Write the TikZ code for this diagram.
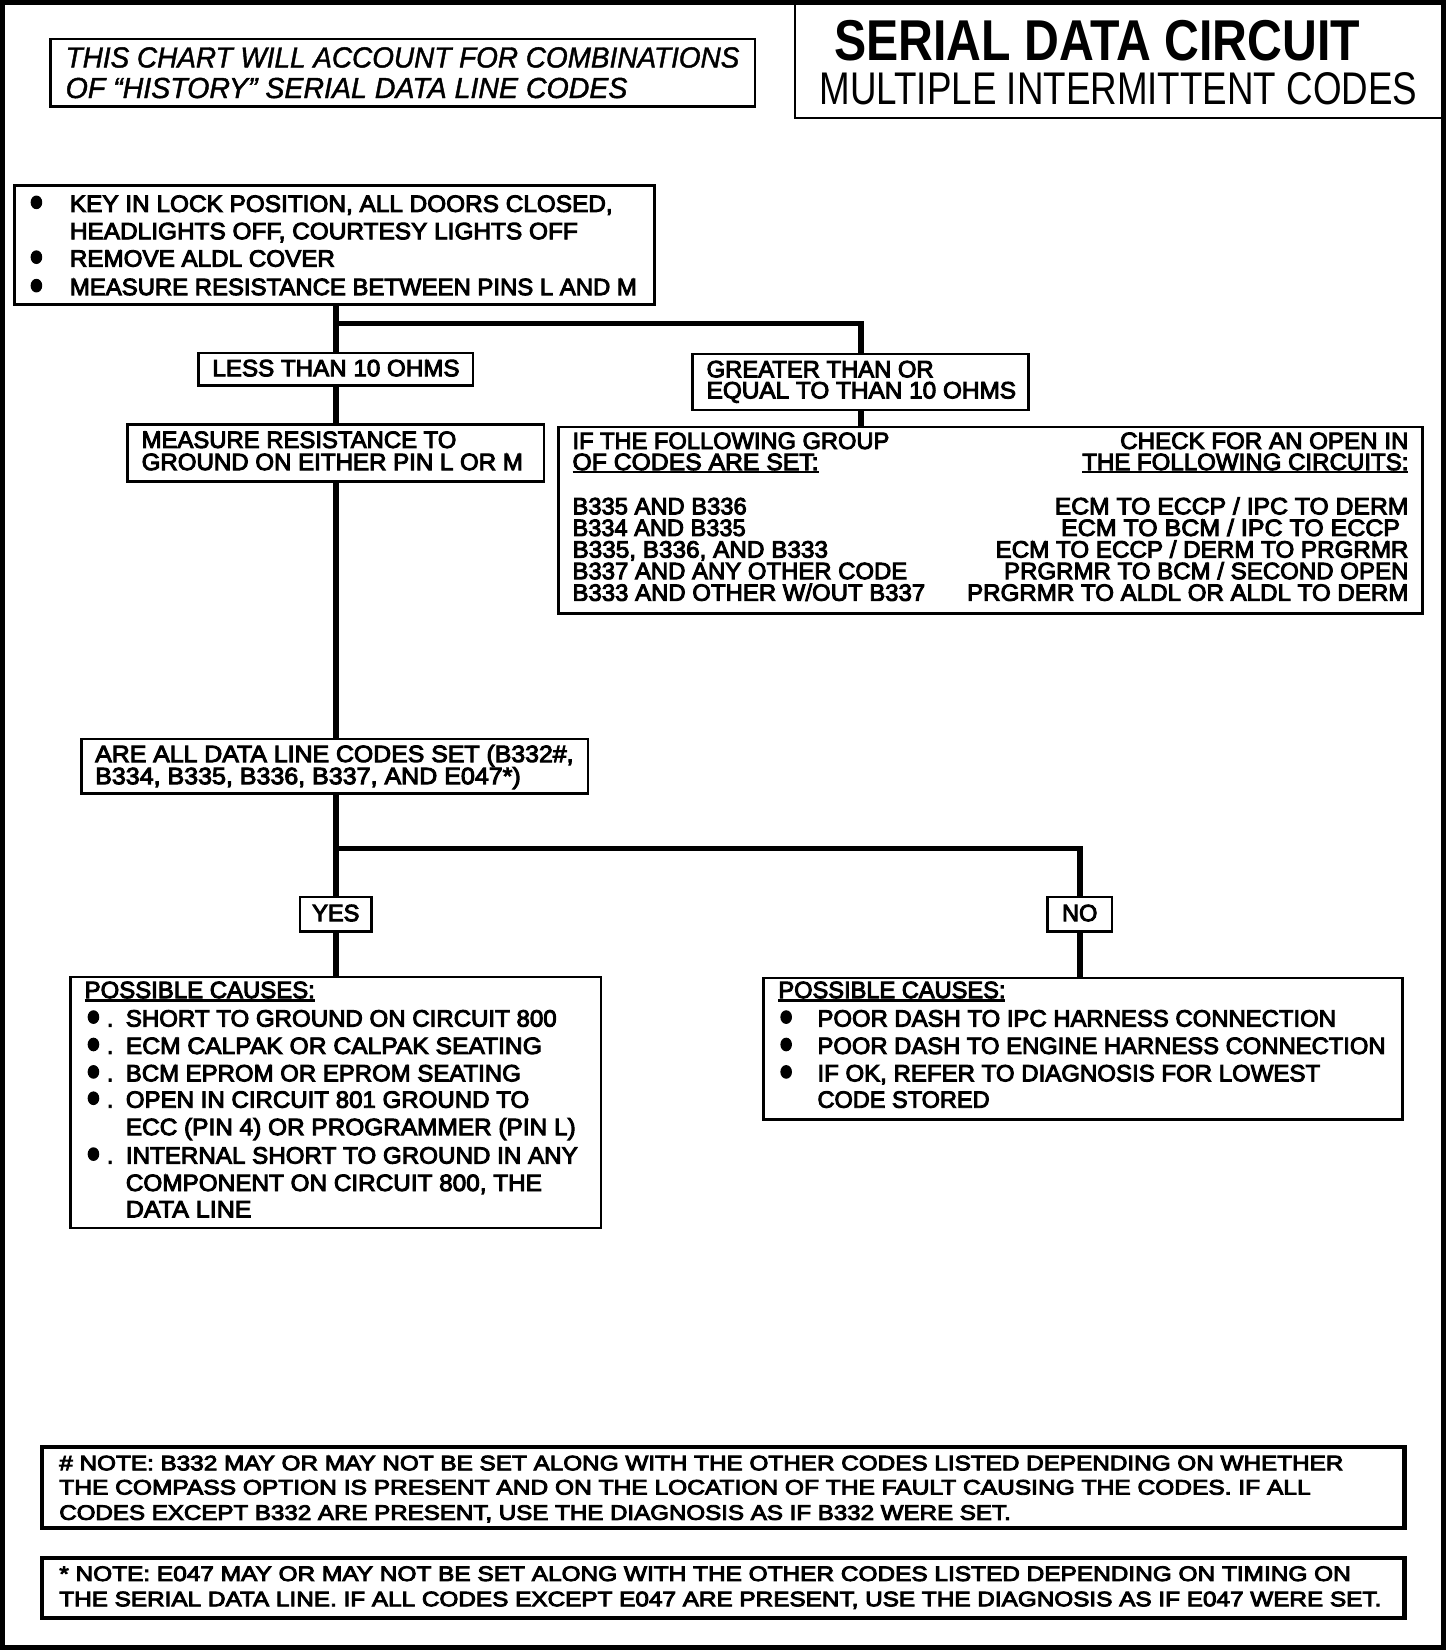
\documentclass[tikz,border=0pt]{standalone}
\usepackage{fontspec}
\usepackage{graphicx}
\setmainfont{Liberation Sans}
\newfontfamily\bodyf{Liberation Sans}[FakeBold=4]
\newfontfamily\itf{Liberation Sans}[FakeBold=1.5]
\usetikzlibrary{fit}
\newsavebox\hfbox
\newcommand\hfit[2]{\sbox\hfbox{#2}\pgfmathsetmacro\hfac{#1*1.056/\the\wd\hfbox}\scalebox{\hfac}[1]{\usebox\hfbox}}
\newsavebox\ulbox
\newcommand\ulx[1]{\sbox\ulbox{#1}\rlap{\rule[-3.4pt]{\wd\ulbox}{2.1pt}}\usebox\ulbox}
\newcommand\bodysize{\bodyf\fontsize{23.6}{26}\selectfont}
\newcommand\notesize{\bodyf\fontsize{21}{24}\selectfont}
\tikzset{
  box/.style={draw, line width=2.6pt, inner sep=0pt},
  notebox/.style={draw, line width=4.2pt, inner sep=0pt},
  conn/.style={line width=5.8pt},
  txt/.style={anchor=base west, inner sep=0pt, font=\bodysize},
  rtxt/.style={anchor=base east, inner sep=0pt, font=\bodysize},
  ctxt/.style={anchor=base, inner sep=0pt, font=\bodysize},
  ntxt/.style={anchor=base west, inner sep=0pt, font=\notesize},
  blt/.style={fill=black},
}
\begin{document}
\begin{tikzpicture}[x=1.056pt,y=-1.054pt]
\useasboundingbox (0,0) rectangle (1378.8,1567.4);
% outer frame
\draw[line width=4.4pt] (2.5,2.5) rectangle (1367,1563);
% title box
\node[box, fit={(753,3) (1367,112)}] (title) {};
\node[anchor=base west, inner sep=0pt] (t1) at (790,57) {\hfit{498}{\bfseries\fontsize{57.6}{60}\selectfont SERIAL DATA CIRCUIT}};
\node[anchor=base west, inner sep=0pt] (t2) at (776,99) {\hfit{566}{\fontsize{45.8}{50}\selectfont MULTIPLE INTERMITTENT CODES}};
% chart note
\node[box, fit={(48,37) (715,101)}] (chart) {};
\node[anchor=base west, inner sep=0pt] (c1) at (62,64) {\hfit{638}{\itf\itshape\fontsize{29}{30}\selectfont THIS CHART WILL ACCOUNT FOR COMBINATIONS}};
\node[anchor=base west, inner sep=0pt] (c2) at (62,93) {\hfit{532}{\itf\itshape\fontsize{29}{30}\selectfont OF “HISTORY” SERIAL DATA LINE CODES}};
% box A
\node[box, fit={(14,176) (620,289)}] (A) {};
\fill[blt] (34.5,192) ellipse [x radius=5.5, y radius=6.5];
\fill[blt] (34.5,244) ellipse [x radius=5.5, y radius=6.5];
\fill[blt] (34.5,271) ellipse [x radius=5.5, y radius=6.5];
\node[txt] (a1) at (66,201) {\hfit{514}{KEY IN LOCK POSITION, ALL DOORS CLOSED,}};
\node[txt] (a2) at (66,227) {\hfit{481}{HEADLIGHTS OFF, COURTESY LIGHTS OFF}};
\node[txt] (a3) at (66,253) {\hfit{251}{REMOVE ALDL COVER}};
\node[txt] (a4) at (66,280) {\hfit{537}{MEASURE RESISTANCE BETWEEN PINS L AND M}};
% less / greater
\node[box, fit={(188,335) (448,366)}] (less) {};
\node[txt] (l1) at (201,357) {\hfit{234}{LESS THAN 10 OHMS}};
\node[box, fit={(656,336) (974,389)}] (greater) {};
\node[txt] (g1) at (669,358) {\hfit{215}{GREATER THAN OR}};
\node[txt] (g2) at (669,378) {\hfit{293}{EQUAL TO THAN 10 OHMS}};
% measure
\node[box, fit={(121,403) (515,457)}] (meas) {};
\node[txt] (m1) at (134,425) {\hfit{298}{MEASURE RESISTANCE TO}};
\node[txt] (m2) at (134,446) {\hfit{361}{GROUND ON EITHER PIN L OR M}};
% code table
\node[box, fit={(529,405) (1347,582)}] (ifbox) {};
\node[txt] (i1) at (542,426) {\hfit{300}{IF THE FOLLOWING GROUP}};
\node[txt] (i2) at (542,446) {\ulx{\hfit{233}{OF CODES ARE SET:}}};
\node[txt] (i3) at (542,488) {\hfit{165}{B335 AND B336}};
\node[txt] (i4) at (542,508.5) {\hfit{164}{B334 AND B335}};
\node[txt] (i5) at (542,529) {\hfit{242}{B335, B336, AND B333}};
\node[txt] (i6) at (542,549.5) {\hfit{317}{B337 AND ANY OTHER CODE}};
\node[txt] (i7) at (542,570) {\hfit{334}{B333 AND OTHER W/OUT B337}};
\node[rtxt] (r1) at (1334,426) {\hfit{273}{CHECK FOR AN OPEN IN}};
\node[rtxt] (r2) at (1334,446) {\ulx{\hfit{309}{THE FOLLOWING CIRCUITS:}}};
\node[rtxt] (r3) at (1334,488) {\hfit{335}{ECM TO ECCP / IPC TO DERM}};
\node[rtxt] (r4) at (1326,508.5) {\hfit{321}{ECM TO BCM / IPC TO ECCP}};
\node[rtxt] (r5) at (1334,529) {\hfit{391}{ECM TO ECCP / DERM TO PRGRMR}};
\node[rtxt] (r6) at (1334,549.5) {\hfit{383}{PRGRMR TO BCM / SECOND OPEN}};
\node[rtxt] (r7) at (1334,570) {\hfit{418}{PRGRMR TO ALDL OR ALDL TO DERM}};
% are all
\node[box, fit={(77,701) (557,753)}] (areall) {};
\node[txt] (q1) at (90,723) {\hfit{453}{ARE ALL DATA LINE CODES SET (B332\#,}};
\node[txt] (q2) at (90,744) {\hfit{403}{B334, B335, B336, B337, AND E047*)}};
% yes / no
\node[box, fit={(284,851) (352,884)}] (yes) {};
\node[ctxt] (y1) at (318,874) {YES};
\node[box, fit={(992,851) (1053,884)}] (no) {};
\node[ctxt] (n1) at (1022.5,874) {NO};
% possible causes left
\node[box, fit={(67,927) (569,1165)}] (pcl) {};
\node[txt] (p0) at (80,947) {\ulx{\hfit{218}{POSSIBLE CAUSES:}}};
\foreach \yy in {974,1000,1026,1051,1104}{
  \fill[blt] (88.5,\yy-9) ellipse [x radius=5.5, y radius=6.5];
}
\node[txt] (pd1) at (101,974) {.};
\node[txt] (pd2) at (101,1000) {.};
\node[txt] (pd3) at (101,1026) {.};
\node[txt] (pd4) at (101,1051) {.};
\node[txt] (pd5) at (101,1104) {.};
\node[txt] (p1) at (119,974) {\hfit{408}{SHORT TO GROUND ON CIRCUIT 800}};
\node[txt] (p2) at (119,1000) {\hfit{394}{ECM CALPAK OR CALPAK SEATING}};
\node[txt] (p3) at (119,1026) {\hfit{374}{BCM EPROM OR EPROM SEATING}};
\node[txt] (p4) at (119,1051) {\hfit{382}{OPEN IN CIRCUIT 801 GROUND TO}};
\node[txt] (p5) at (119,1077) {\hfit{426}{ECC (PIN 4) OR PROGRAMMER (PIN L)}};
\node[txt] (p6) at (119,1104) {\hfit{428}{INTERNAL SHORT TO GROUND IN ANY}};
\node[txt] (p7) at (119,1130) {\hfit{394}{COMPONENT ON CIRCUIT 800, THE}};
\node[txt] (p8) at (119,1155) {\hfit{119}{DATA LINE}};
% possible causes right
\node[box, fit={(723,928) (1328,1062)}] (pcr) {};
\node[txt] (s0) at (737,947) {\ulx{\hfit{215}{POSSIBLE CAUSES:}}};
\foreach \yy in {974,1000,1026}{
  \fill[blt] (744.5,\yy-9) ellipse [x radius=5.5, y radius=6.5];
}
\node[txt] (s1) at (774,974) {\hfit{491}{POOR DASH TO IPC HARNESS CONNECTION}};
\node[txt] (s2) at (774,1000) {\hfit{538}{POOR DASH TO ENGINE HARNESS CONNECTION}};
\node[txt] (s3) at (774,1026) {\hfit{476}{IF OK, REFER TO DIAGNOSIS FOR LOWEST}};
\node[txt] (s4) at (774,1051) {\hfit{163}{CODE STORED}};
% notes
\node[notebox, fit={(40,1373) (1330,1450)}] (note1) {};
\node[ntxt] (na) at (56,1395) {\hfit{1216}{\# NOTE: B332 MAY OR MAY NOT BE SET ALONG WITH THE OTHER CODES LISTED DEPENDING ON WHETHER}};
\node[ntxt] (nb) at (56,1418) {\hfit{1185}{THE COMPASS OPTION IS PRESENT AND ON THE LOCATION OF THE FAULT CAUSING THE CODES. IF ALL}};
\node[ntxt] (nc) at (56,1442) {\hfit{901}{CODES EXCEPT B332 ARE PRESENT, USE THE DIAGNOSIS AS IF B332 WERE SET.}};
\node[notebox, fit={(40,1478) (1330,1535)}] (note2) {};
\node[ntxt] (nd) at (56,1500) {\hfit{1223}{* NOTE: E047 MAY OR MAY NOT BE SET ALONG WITH THE OTHER CODES LISTED DEPENDING ON TIMING ON}};
\node[ntxt] (ne) at (56,1524) {\hfit{1252}{THE SERIAL DATA LINE. IF ALL CODES EXCEPT E047 ARE PRESENT, USE THE DIAGNOSIS AS IF E047 WERE SET.}};
% connectors
\coordinate (sp) at (318,0);
\coordinate (j1) at (318,307);
\coordinate (j2) at (318,805);
\draw[conn] (A.south -| sp) -- (less.north -| sp);
\draw[conn] (less.south -| sp) -- (meas.north -| sp);
\draw[conn] (meas.south -| sp) -- (areall.north -| sp);
\draw[conn] (areall.south -| sp) -- (yes.north);
\draw[conn] (yes.south) -- (pcl.north -| yes.south);
\draw[conn] (j1) -| (greater.north);
\draw[conn] (greater.south) -- (greater.south |- ifbox.north);
\draw[conn] (j2) -| (no.north);
\draw[conn] (no.south) -- (no.south |- pcr.north);
\end{tikzpicture}
\end{document}
